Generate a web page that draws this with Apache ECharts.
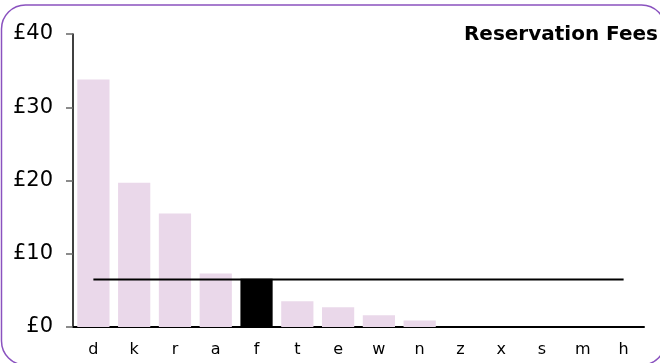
<!DOCTYPE html>
<html>
<head>
<meta charset="utf-8">
<script src="https://cdn.jsdelivr.net/npm/echarts@6/dist/echarts.min.js"></script>
<style>
  html, body { margin: 0; padding: 0; background: #fff; }
  #chart { width: 660px; height: 363px; }
</style>
</head>
<body>
<div id="chart"></div>
<script>
// Reservation fees by operator code
const categories = ['d', 'k', 'r', 'a', 'f', 't', 'e', 'w', 'n', 'z', 'x', 's', 'm', 'h'];
const fees = [33.8, 19.7, 15.5, 7.3, 6.6, 3.5, 2.7, 1.6, 0.9, 0, 0, 0, 0, 0];
const highlighted = 'f';
const averageFee = 6.5;
const yTicks = [0, 10, 20, 30, 40];

const chart = echarts.init(document.getElementById('chart'), null, { renderer: 'canvas' });

const barData = categories.map((c, i) => ({
  value: fees[i],
  itemStyle: { color: c === highlighted ? '#000000' : '#ead8ea' }
}));

chart.setOption({
  animation: false,
  backgroundColor: '#ffffff',
  textStyle: { fontFamily: 'DejaVu Sans' },
  graphic: [{
    type: 'rect',
    shape: { x: 1.5, y: 5, width: 664, height: 360, r: 24 },
    style: { fill: 'none', stroke: '#8a52bf', lineWidth: 1.5 },
    z: 100
  }],
  title: {
    text: 'Reservation Fees',
    right: -3,
    top: 20,
    textStyle: { fontFamily: 'DejaVu Sans', fontWeight: 'bold', fontSize: 20, color: '#000' }
  },
  grid: { left: 73, right: 16, top: 34, bottom: 36, containLabel: false },
  xAxis: {
    type: 'category',
    data: categories,
    axisLine: { lineStyle: { color: '#000', width: 2 } },
    axisTick: { show: false },
    axisLabel: { color: '#000', fontSize: 16, margin: 15 }
  },
  yAxis: {
    type: 'value',
    min: yTicks[0],
    max: yTicks[yTicks.length - 1],
    interval: 10,
    axisLine: { show: true, lineStyle: { color: '#000', width: 1.5 } },
    axisTick: { show: true, length: 7, lineStyle: { color: '#666', width: 1.5 } },
    splitLine: { show: false },
    axisLabel: { color: '#000', fontSize: 21, margin: 20, formatter: v => '£' + v }
  },
  series: [
    {
      type: 'bar',
      data: barData,
      barCategoryGap: '21%',
      z: 2
    },
    {
      type: 'line',
      data: categories.map(() => averageFee),
      symbol: 'none',
      lineStyle: { color: '#000', width: 2 },
      z: 3
    }
  ]
});
</script>
</body>
</html>
